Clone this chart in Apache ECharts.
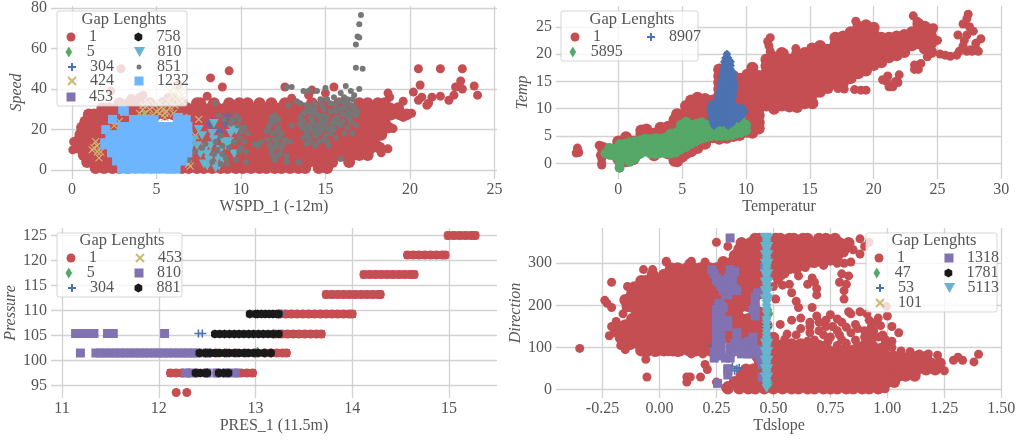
<!DOCTYPE html>
<html><head><meta charset="utf-8">
<script src="https://cdn.jsdelivr.net/npm/echarts@6/dist/echarts.min.js"></script>
<style>html,body{margin:0;padding:0;background:#fff}#c{width:1021px;height:441px}</style>
</head><body><div id="c"></div>
<script>
// ---------- tick labels / axis names
const ticks1X=[0,5,10,15,20,25], ticks1Y=[0,20,40,60,80];
const ticks2X=[0,5,10,15,20,25,30], ticks2Y=[0,5,10,15,20,25];
const ticks3X=[11,12,13,14,15], ticks3Y=[95,100,105,110,115,120,125];
const ticks4X=[-0.25,0,0.25,0.5,0.75,1,1.25,1.5], ticks4Y=[0,100,200,300];

// ---------- panel 1: WSPD_1 vs Speed. rows are [y, x, x, ...]
const wspdRed1Rows=[
[1,1.4,1.9,2.4,2.8,3.3,6.5,6.9,7.4,7.8,8.3,8.8,9.2,9.7,10.1,10.6,11.1,11.5,12,12.4,12.9,13.4,13.8,14.6,15.1],
[4,.9,1.3,1.8,2.2,2.7,6.7,7.1,7.6,8,8.5,9,9.4,9.9,10.3,10.8,11.3,11.7,12.2,12.6,13.1,13.6,14,14.5,14.9,15.4,16.4],
[7.5,.7,1.1,1.6,2,2.5,6.9,7.3,7.8,8.2,8.7,9.2,9.6,10.1,10.5,11,11.5,11.9,12.4,12.8,13.3,13.8,14.2,14.7,15.1,15.6,16.1,16.6,17,17.5],
[11,.4,.8,1.1,1.5,2,7,7.5,7.9,8.4,8.9,9.3,9.8,10.2,10.7,11.2,11.6,12.1,12.5,13,13.5,13.9,14.4,14.8,15.3,15.8,16.2,16.7,17.1,17.7,18.2],
[14,.3,.6,.9,1.3,1.8,6.8,7.2,7.7,8.2,8.6,9.1,9.5,10,10.4,10.9,11.4,11.8,12.3,12.7,13.2,13.7,14.1,14.6,15,15.5,16,16.4,16.9,17.4,17.9],
[17.5,.5,.7,1.1,1.6,2,6.9,7.4,7.9,8.3,8.8,9.3,9.7,10.2,10.6,11.1,11.6,12,12.5,12.9,13.4,13.9,14.3,14.8,15.2,15.7,16.2,16.6,17.1,17.6,18.1,18.3],
[21,.6,.9,1.3,1.8,2.2,2.7,6.8,7.2,7.7,8.2,8.6,9.1,9.5,10,10.4,10.9,11.4,11.8,12.3,12.7,13.2,13.7,14.1,14.6,15,15.5,16,16.4,16.9,17.3,17.8,18.3,18.7],
[24,.8,1.1,1.5,2,2.5,2.9,3.4,6.9,7.4,7.9,8.3,8.8,9.3,9.7,10.2,10.6,11.1,11.6,12,12.5,12.9,13.4,13.9,14.3,14.8,15.2,15.7,16.2,16.6,17.1,17.6,18,18.5],
[27.5,1,1.3,1.8,2.3,2.7,3.2,3.6,4.1,4.6,5,5.5,6,6.4,6.9,7.3,7.8,8.3,8.7,9.2,9.6,10.1,10.6,11,11.5,11.9,12.4,12.9,13.3,13.8,14.2,14.7,15.2,15.6,16.1,16.5,17,17.5,17.9,18.4,18.9,19.4,19.8],
[30.5,1.8,2.2,2.7,3.1,3.6,4,4.5,5,5.4,5.9,6.3,6.8,7.3,7.7,8.2,8.6,9.1,9.6,10,10.5,10.9,11.4,11.9,12.3,12.8,13.2,13.7,14.2,14.6,15.1,15.5,16,16.5,16.9,17.4,17.8,18.3,18.8,19.3],
[33,2.8,3.4,4,4.6,5.4,6.1,6.5,7.4,7.6,8.4,9.3,9.9,10.4,11.1,11.8,12.6,13,14.2,14.9,15.8,17,17.5,18.1,18.5]
];
const wspdRedExtra=[[8.2,45.5],[8.9,41],[9.3,49],[8,36.5],[12.6,41],[15.5,41],[15,38],[14.2,39.5],[14,37],[13,35.5],[2.3,39],[2.9,50],[6.3,42],[20.5,50],[21.8,50],[23.1,50],[20.6,42],[20.2,38.5],[20.5,34.5],[20.7,36],[21,32],[21.1,33],[21.3,36],[21.8,36.5],[22.3,34.5],[22.6,37],[22.7,41],[23,44],[23.1,40],[23.8,41.5],[24,37],[19,20.5],[18.7,10.5],[18.3,8.5],[16.4,4],[17.5,8],[18.7,38],[18.8,36],[3.5,35.5],[4,36],[4.2,37],[5.7,36],[6,36],[.1,14],[.05,10],[20.1,28],[19.6,34],[19.6,26],[19.2,30]];
const wspdGreen=[[4.3,27],[4.7,1]];
const wspdPlus=[[8.1,23],[8.3,22],[8.5,20],[8.8,19],[9.1,25],[9.2,27],[8.7,16],[8.4,14],[8.3,24],[9,23]];
const wspdCross=[[1.2,10],[1.4,14],[1.5,12],[1.6,6],[1.7,9],[1.3,11],[1.5,9],[2.5,22],[2.8,24],[4.2,30],[4.4,26],[4.6,30],[4.3,28],[4.1,25],[4.9,32],[5.2,28],[5.5,26],[5.8,31],[5.6,29],[6,38],[6.2,42],[6.4,36],[6.5,34],[6.1,35],[5.4,30],[6.7,22],[6.8,18],[7,2],[6.9,3],[7.5,25],[7.1,15],[7.3,17],[6.6,26],[6,28],[5.2,33],[4.5,33],[4,28],[4.2,32],[5,29],[5.7,34],[5.9,37],[6.3,39],[6.1,32],[5.5,28],[5.3,31],[6.5,37],[6.6,40],[6,41],[5.8,39],[4.8,27]];
const wspdPurple=[[5,10]];
const wspdBlack=[[4.5,6]];
const wspdCyan=[[7.5,20],[7.2,15],[7,11],[7.6,8],[8,2],[8,8],[8.2,12],[8.3,18],[8.4,23],[8.6,6],[8.7,2],[8.8,10],[9,14],[9.5,20],[9.6,8],[9.3,14],[9.7,19.5],[7.4,12],[7.8,3],[6.6,14],[8.4,15],[7.9,11],[8.5,1],[7.7,17],[8.1,5],[8.9,5],[9.4,18],[9.1,12]];
const wspdGray=[[17.1,76.5],[17,72],[16.9,66],[17,65.5],[16.8,62],[16.8,50.5],[17.2,50],[17,40],[16.2,41.5],[16.5,39],[15.9,38],[15,40.5],[14.5,39],[14,39],[13.7,39],[13,41],[12.7,41],[13.3,34],[13.5,33],[12.8,32],[15.9,5.5],[16,34],[16.3,33],[15.6,32],[15.9,30],[16.4,29],[16.7,31],[16.2,27],[15.7,26],[16,24],[16.5,24],[16.8,27],[15.5,36],[16.1,36],[16.6,35],[15.1,35],[14.7,35],[14.4,33],[14.1,31],[13.9,29],[14.4,28],[14.9,30],[15.3,29],[15.1,26],[14.7,25],[14.2,25],[14,22],[14.5,22],[15,22],[15.4,23],[14.8,20],[14.3,19],[13.9,18],[14.4,17],[15,17],[15.3,18],[13.6,21],[13.5,26],[13.7,16],[15.1,14],[14.6,14],[14.1,14],[15.5,20],[16.3,21],[16.6,18],[12,27],[11.8,26],[12,24],[11.7,22],[12.2,21],[11.5,19],[11.9,18],[12.4,18],[12.2,16],[11.6,15],[12.1,13],[12.5,13],[12,11],[11.8,9],[12.3,8],[12.7,7],[12.1,7],[13,22],[12.9,14],[13.4,4],[9.8,22],[10,19],[9.9,16],[10.2,14],[10,11],[9.7,5],[10.3,4],[9.5,25],[9,25],[8.7,27],[8.5,33],[7.7,11],[7.3,9],[6.6,6],[6.9,5],[6.5,16],[8.5,14],[8.8,17],[9.3,11],[8.9,8],[10.8,13],[11,12],[11.2,14],[10.3,9],
[16.1,31],[16.5,32],[15.8,34],[16.3,35],[16.7,37],[15.3,33],[15.6,29],[16,28],[16.4,26],[15.9,22],[15.4,21],[15,24],[14.6,27],[14.2,29],[14.8,32],[14.4,30],[13.9,32],[14.1,26],[13.7,24],[14.3,23],[14.7,23],[15.2,20],[14.6,18],[14.1,20],[13.8,20],[14.9,15],[15.6,16],[15.2,12],[14.4,12],[13.9,13],[16.1,18],[16.8,22],[16.9,29],[16.6,28],[15.5,25],[14.9,27],[14.5,20],[15.7,23],[14,16],[13.7,28],[13.5,23],[11.8,24],[12.2,25],[11.6,20],[12.1,19],[12,15],[11.7,12],[12.4,11],[12,5],[12.6,15],[12.7,4],[11.9,7],[9.4,23],[9.7,27],[9.9,25],[10.2,21],[10.4,18],[9.6,14],[9.9,9],[8.6,10],[8.4,8],[8.9,12],[9.1,6],[8.3,4],[7.9,13],[9.2,3],[8.8,3]];
const wspdLight1Rows=[
[1,3,3.5,4,4.5,4.9,5.4,5.9,6.1],
[5,2.7,3.1,3.6,4,4.5,4.9,5.4,5.9,6.2,6.5],
[9,2.4,2.8,3.3,3.7,4.2,4.6,5,5.4,5.8,6.2,6.6,6.8],
[13,2,2.4,2.9,3.4,3.9,4.4,4.8,5.3,5.8,6.2,6.6,6.8],
[17,2.3,2.8,3.2,3.7,4.2,4.7,5.3,5.7,6.2,6.6,6.8],
[21,3,3.5,3.9,4.4,4.8,5.2,5.6,6,6.3,6.8],
[24.5,3.7,4,4.4,4.8,6.3,6.7]
];
const wspdLightExtra=[[3,30],[2.4,25],[2,20],[6.3,26],[6.7,25],[3.1,29]];

// ---------- panel 2: Temperatur vs Temp. columns are [x, y, y, ...]
const tempRed1Cols=[
[0,4,3.4,.8],[.6,4.8,4,.4],[1.2,4,.8],[1.8,6,5.2],[2.2,6.2,5.4],[2.8,5.4,1.5],[3.3,6.5,5.8],[3.9,6.7,6,1.8],[4.4,8,7.2,1.5,.5],[4.6,9,8.2,.4],[5,8.5,7.6,2,1.2],[5.3,10.5,9.5,8.5,2.5,1.8],
[5.7,11.5,10.5,9.5,8.5,3,2.2],[6.2,12,11,10,9,8,3.5,2.8],[6.8,11.8,10.6,9.6,8.6,4.5,3.6],[7.4,11.5,10.4,9,4.8],[7.9,17.2,16,14.8,13.6,12.4,11.2,4.5],[8.5,15,13,11,4.7],[9,16,14.8,13.6,12.4,11.2,5],[9.5,15.5,14.3,13,11.8,10.6,5.2],
[10.1,16.2,15,13.8,12.6,11.4,10.2,9,7.8,6.6,5.8],[10.5,17.5,16.2,15,13.8,12.6,11.4,10.2,9,7.8,6.6,5.6],[11,16,14.8,13.6,12.4,11.2,10,8.8,7.5,6.4],
[11.6,19,17.8,16.6,15.4,14.2,13,11.8,10.6],[12.2,19.4,18.2,17,15.8,14.6,13.4,12.2,11,10],[12.8,20.2,19,17.8,16.6,15.4,14.2,13,11.8,10.6],[13.4,19,17.8,16.6,15.4,14.2,13,11.8,10.4],[14,20,18.8,17.6,16.4,15.2,14,12.8,11.6,10.3],
[14.6,20.2,19,17.8,16.6,15.4,14.2,13,11.8,11],[15.2,21,19.8,18.6,17.4,16.2,15,13.8,12.6,11],[15.8,21.5,20.3,19.1,17.9,16.7,15.5,14.3,13.1],[16.4,20.8,19.6,18.4,17.2,16,14.8,13.8],[17,23,21.8,20.6,19.4,18.2,17,15.8,14.6],[17.6,23.2,22,20.8,19.6,18.4,17.2,16,14.8],
[18.2,24,22.8,21.6,20.4,19.2,18,16.8,15.6],[18.8,25,23.8,22.6,21.4,20.2,19,17.8,16.5],[19.4,25.3,24,22.8,21.6,20.4,19.2,18,17],[20,24.8,23.6,22.4,21.2,20,18.8,18],[20.6,23,21.8,20.6,19.4,18.5],[21.2,23,21.8,20.6,19.4],[21.8,23.2,22,20.8,19.8],[22.4,23.5,22.3,21.1,20.4],
[23,24,22.8,21.6],[23.5,25.5,24.4,23.2,22],[24,25,23.6,22.4,21],[24.5,24.5,23.2,22,20.4]
];
const tempRedExtra=[[-3.2,2.5],[-3.1,2],[-3.3,1.9],[-3.2,2.8],[-1.5,3.3],[-1.3,3.2],[-1.1,3],[-1.4,1.5],[-1.3,2.5],[-1.3,.9],[-1.3,0],[-1.3,-.3],[-.5,1.5],[.7,4.8],[.6,4.9],[8,17.4],[7.9,16.3],[11.9,23],[11.7,22.3],[11.8,21.5],[11.9,20.5],[13,20.2],[13.9,21],[15.1,21.2],[17.2,13.7],[17.7,13.6],[18.5,13.5],[19,13.4],[19.4,13.4],[18.6,26],[17.5,15],[20.7,15.3],[21,15],[21.2,14],[21.1,16],[21.5,14],[21.9,14.8],[22,16.2],[21.7,15],[23.2,17.2],[23.5,17.2],[23.2,18],[23.7,18.3],[23.1,27],[23.4,26],[24.2,19.5],[24.7,24.8],[25,22.5],[25.2,20],[25.6,19.8],[26,19.6],[26.5,19.8],[26.7,20.5],[27,21.5],[26.6,23.5],[27.4,27.3],[27.3,26.5],[27,25.5],[27.5,25],[27.8,24.2],[27.3,23.5],[27.1,22.5],[27.3,20.5],[27.7,20.5],[28,21],[28.2,20.5],[28,22],[28.4,22.8],[27.6,20.8]];
const tempGreen1Cols=[
[-1,1.8],[-.7,1.6,2.8],[-.3,1.4,2.6],[.1,-.8,0,1.1,2.3,3.5],[.5,1.2,2.4,3.6],[.9,.3,1.5,2.7,3.8],[1.3,.9,2.2,3.3,4],[1.7,1.7,2.9,4.2],[2.1,2.2,3.2,4.5],[2.5,1.8,3,4.4],[2.9,1.7,2.9,4.6],[3.3,1.9,3.2,4.5],[3.7,1.8,3,4.7],[4.1,1.8,3,4.3,5.4],[4.5,2,3.2,4.4,5.6],[4.9,2.6,3.8,5,6.2,7],[5.3,3,4.2,5.4,6.6,7.6],[5.7,3.6,4.8,6,7],[6.1,4.1,5.3,6.5,7.2],[6.5,4.5,5.7,6.9,7.5],[6.9,4.8,5.9,7],[7.3,5,6,7],[7.7,5,6,7.1],[8.1,5,6,7],[8.5,5,5.9,6.8],[8.9,5.2,6.2],[9.3,5.5,6.5,7.3],[9.6,5.6,6.7,7.8,8.4],[10,6,7]
];
const tempGreenExtra=[[7.4,9.5],[7.6,8.5],[7.9,12]];
const tempBlue1Rows=[
[20,8.5],[19.3,8.4,8.6],[18.6,8.3,8.6,8.8],[17.9,8.3,8.6,8.8],[17.2,8.2,8.5,8.8],[16.5,8.2,8.5,8.8,9],[15.8,8.1,8.4,8.7,9],[15.1,8.1,8.4,8.7,9],[14.4,8,8.3,8.6,8.9,9.1],[13.7,8,8.3,8.6,8.9,9.1],[13,7.9,8.2,8.5,8.8,9],[12.3,7.8,8.1,8.4,8.7,9],
[11.6,7.8,8.1,8.4,8.7,8.9],[10.9,7.3,7.6,7.9,8.2,8.5,8.8,9],[10.2,7.2,7.5,7.8,8.1,8.4,8.7,9,9.4,9.7],[9.5,7.2,7.5,7.8,8.1,8.4,8.7,9,9.3,9.6,9.9],[8.8,7.3,7.6,7.9,8.2,8.5,8.8,9.1,9.4,9.7],[8.1,7.3,7.6,7.9,8.2,8.5,8.8,9.1,9.4],[7.4,7.4,7.8,8.1,8.4,8.6,8.9],[6.9,7.5,8.6]
];

// ---------- panel 3: PRES_1 vs Pressure
const presRedX125=[14.99,15.05,15.11,15.17,15.23,15.27];
const presRedX121=[14.57,14.63,14.69,14.75,14.81,14.87,14.93,14.96];
const presRedX117=[14.12,14.18,14.24,14.3,14.36,14.42,14.48,14.54,14.6,14.64];
const presRedX113=[13.73,13.79,13.85,13.91,13.97,14.03,14.09,14.15,14.21,14.27,14.29];
const presRedX109=[13.25,13.31,13.37,13.43,13.49,13.55,13.61,13.67,13.73,13.79,13.85,13.91,13.97,14];
const presRedX105=[13.2,13.27,13.33,13.39,13.45,13.51,13.57,13.63,13.68];
const presRedX101=[12.5,12.6,12.7,12.8,12.9,13,13.1,13.16,13.22,13.28,13.32];
const presRedX97=[12.12,12.18,12.24,12.3,12.4,12.5,12.6,12.7,12.8,12.85,12.91,12.97];
const presRedX93=[12.18,12.29];
const presGreen=[[13,101.5],[13.02,101.7]];
const presPlus=[[12.41,105.4],[12.45,105.4],[13.27,109.4],[12.5,97.6]];
const presCross=[[12.9,101.5]];
const presPurpleX105=[11.14,11.19,11.25,11.31,11.33,11.47,11.53,12.06];
const presPurpleX101=[11.19,11.35,11.4,11.45,11.5,11.55,11.6,11.65,11.7,11.75,11.8,11.85,11.9,11.95,12,12.05,12.1,12.15,12.2,12.25,12.3,12.35,12.4,12.5];
const presPurpleX97=[12.28,12.35,12.5,12.6,12.7,12.79];
const presBlackX109=[12.94,13,13.02,13.06,13.1,13.14,13.18,13.22,13.24];
const presBlackX105=[12.58,12.63,12.68,12.73,12.78,12.83,12.88,12.93,12.98,13.03,13.08,13.13,13.18,13.24];
const presBlackX101=[12.42,12.48,12.53,12.58,12.63,12.68,12.73,12.78,12.83,12.88,12.93,12.98,13.03,13.09,13.16];
const presBlackX97=[12.38,12.43,12.48,12.5,12.62,12.67,12.72];

// ---------- panel 4: Tdslope vs Direction. rows are [y, x, x, ...]
const slopeRed1Rows=[
[3,.3,.35,.39,.42,.46,.5,.54,.58,.61,.65,.68,.72,.75,.78,.82,.85,.89,.92,.96],
[18,.33,.37,.4,.44,.51,.55,.58,.62,.65,.69,.72,.76,.79,.83,.86,.89,.93,.96,1,1.03],
[33,.36,.39,.43,.47,.5,.54,.57,.61,.64,.67,.71,.74,.78,.81,.85,.88,.91,.95,.98,1.02,1.05,1.08,1.12],
[48,.38,.41,.44,.51,.55,.58,.62,.65,.69,.72,.76,.79,.83,.86,.89,.93,.96,1,1.03,1.06,1.1,1.13,1.17,1.21],
[63,.44,.5,.54,.57,.61,.64,.67,.71,.74,.78,.81,.85,.88,.91,.95,.98,1.02,1.05,1.08,1.12,1.15,1.19,1.23],
[78,.43,.51,.55,.58,.62,.65,.69,.72,.76,.79,.83,.86,.89,.93,.96,1,1.03,1.06,1.1,1.13,1.17],
[93,-.08,-.05,-.01,.02,.06,.09,.13,.16,.19,.23,.42,.5,.54,.57,.61,.64,.67,.71,.74,.78,.81,.85,.88,.91,.95,.98],
[108,-.13,-.09,-.06,-.03,.01,.04,.08,.11,.14,.18,.21,.25,.38,.42,.45,.51,.55,.58,.62,.66],
[123,-.17,-.14,-.1,-.07,-.03,0,.04,.07,.1,.14,.17,.21,.24,.28,.31,.34,.38,.41,.45,.5],
[138,-.19,-.16,-.12,-.09,-.06,-.02,.01,.05,.08,.12,.15,.18,.22,.25,.29,.32,.36,.39,.42,.46],
[153,-.15,-.11,-.08,-.05,-.01,.02,.06,.09,.13,.16,.19,.23,.26,.3,.33,.37,.4,.43,.47],
[168,-.12,-.09,-.05,-.02,.01,.05,.08,.12,.15,.19,.22,.25,.29,.32,.36,.39,.46],
[183,-.1,-.07,-.03,0,.04,.07,.1,.14,.17,.21,.24,.28,.31,.34,.44],
[198,-.14,-.12,-.09,-.05,-.02,.01,.05,.08,.12,.15,.19,.22,.25,.29,.32,.36,.39],
[213,-.15,-.14,-.1,-.07,-.03,0,.04,.07,.1,.14,.17,.21,.24,.28,.31,.34,.38,.41],
[228,-.12,-.11,-.08,-.05,-.01,.02,.06,.09,.13,.16,.19,.23,.26,.3,.33,.37,.4,.44],
[243,-.11,-.09,-.05,-.02,.01,.05,.08,.12,.15,.19,.22,.25,.29,.32,.36,.39,.43,.46],
[258,-.08,-.06,-.03,0,.04,.07,.1,.14,.17,.21,.24,.28,.31,.34,.38,.41,.45],
[273,-.03,.02,.05,.09,.12,.15,.19,.22,.26,.29,.33,.36,.4,.43,.46,.51,.53],
[288,.05,.08,.12,.15,.18,.22,.25,.29,.32,.36,.39,.42,.46,.5,.53,.57,.6],
[303,.28,.32,.36,.4,.43,.47,.51,.54,.58,.61,.65,.68,.72],
[318,.33,.37,.4,.44,.5,.53,.57,.6,.64,.67,.71,.74,.78],
[333,.35,.38,.42,.45,.5,.54,.57,.61,.64,.68,.71,.74,.78,.81],
[348,.36,.4,.43,.47,.51,.55,.58,.62,.65,.69,.72,.76,.79,.83],
[358,.42,.44,.51,.53,.57,.59,.63,.65,.7,.73,.77]
];
const slopeRedExtra=[[-.35,98],[-.24,212],[-.23,205],[-.21,195],[-.21,255],[-.14,245],[-.22,128],[-.21,150],[-.19,162],[-.18,153],[-.16,180],[-.15,95],[-.17,105],[-.11,155],[-.06,72],[-.055,30],[.03,303],[-.07,285],[.2,60],[.21,48],[.18,30],[.12,18],[.12,30],[.135,30],[.29,5],[.3,10],[.25,18],[.81,300],[.84,303],[.61,270],[.67,265],[.68,255],[.65,250],[.69,240],[.69,225],[.57,250],[.58,230],[.6,210],[.61,195],[.51,215],[.54,248],[.67,195],[.8,275],[.83,270],[.79,255],[.82,250],[.81,235],[.81,215],[.83,185],[.88,185],[.91,180],[.84,180],[.78,168],[.73,165],[.7,160],[.58,165],[.53,155],[.62,170],[.76,150],[.86,155],[.93,150],[.96,170],[.97,152],[1,175],[1.02,150],[1.05,135],[.98,130],[.94,140],[.66,135],[.56,132],[.65,115],[.79,130],[.84,135],[.9,125],[.99,2],[1.29,70],[1.31,77],[1.33,70],[1.38,66],[1.4,84],[1.25,45],[.27,115],[.88,358],[.92,350],[.9,340],[.995,198],[.25,350],[.3,340],[.28,305],[.2,303],[.13,300],[.14,305],[.03,305],[-.03,285],
[.7,108],[.74,115],[.78,105],[.82,110],[.86,118],[.9,110],[.94,105],[.99,110],[1.02,100],[1.06,92],[1.1,90],[1.14,85],[1.18,85],[1.22,82],[.78,348],[.83,345],[.85,332],[.81,325],[.88,322],[.75,305],[.78,300],[.72,295],[.67,300],[.64,290],[.52,260],[.55,275],[.5,245],[.04,90],[.08,88],[.14,85],[.19,85],[.22,90],[-.02,88],
[.6,130],[.62,145],[.66,150],[.7,140],[.72,130],[.75,125],[.78,140],[.82,148],[.87,145],[.9,140],[.93,130],[.96,125],[.99,120],[1.02,115],[.55,120],[.6,105],[.68,118],[.72,105],[.8,118],[.87,105],[.93,115],[.97,100],[.73,150],[.69,175],[.75,178],[.8,160],[.95,160],[.92,165],[.66,160]];
const slopeGreen=[[.48,190],[.485,15],[.48,300],[.485,180]];
const slopePlus=[[.23,105],[.32,55],[.34,50],[.33,45],[.35,52]];
const slopeCross=[[.47,200]];
const slopePurple=[[.23,285],[.24,275],[.25,265],[.26,255],[.27,245],[.28,235],[.29,225],[.3,225],[.31,235],[.32,250],[.32,270],[.33,280],[.31,285],[.28,260],[.29,245],[.3,265],[.33,240],[.34,235],[.3,255],[.26,205],[.27,200],[.28,195],[.25,190],[.25,175],[.25,160],[.25,145],[.25,130],[.25,115],[.25,100],[.24,90],[.24,75],[.27,185],[.27,170],[.27,155],[.27,140],[.27,125],[.27,110],[.27,95],[.27,80],[.3,165],[.3,150],[.31,85],[.31,100],[.33,110],[.34,125],[.34,135],[.36,110],[.36,95],[.36,85],[.38,100],[.39,115],[.41,125],[.4,85],[.41,105],[.3,45],[.3,35],[.3,50],[.255,15],[.31,360],[.42,185],[.42,195],[.42,205],[.42,220],[.43,230],[.41,190],[.42,175],[.44,95],[.44,75],[.45,30],[.45,60],[.46,290],[.25,260],[.29,75],[.31,75],[.33,90],[.35,105],[.39,85]];
const slopeBlack=[[.47,150]];
const slopeCyanY=[3,9,15,22,29,36,43,50,57,64,71,78,85,92,99,106,113,118,127,135,143,151,159,165,178,186,194,202,210,218,226,234,242,250,258,266,274,282,290,298,306,314,322,330,338,346,354,362];
const slopeCyanSideY=[30,50,70,90,110,215,235,255,275,300,320,340,360];

// ---------- layout
const grids=[
 {left:51,top:6,width:446,height:173,xr:[-1.24,25.15],yr:[-4.4,81]},
 {left:556,top:6,width:446,height:173,xr:[-4.88,30.05],yr:[-2.86,28.8]},
 {left:51,top:228,width:446,height:170,xr:[10.886,15.496],yr:[92.5,126.5]},
 {left:556,top:228,width:446,height:170,xr:[-.454,1.503],yr:[-19.7,383.7]}
];
const SERIF='"Liberation Serif","DejaVu Serif",serif';
const FS=16;
const RED='#C44E52',GREEN='#55A868',BLUE='#4C72B0',TAN='#CCB974',PURPLE='#8172B2',BLACK='#1a1a1a',CYAN='#64B5CD',GRAY='#777777',LIGHT='#6DB6FF';
const SQ='path://M0,0L2,0L2,2L0,2Z';
const SYM={
 o:{s:'circle',size:9,ls:9},
 d:{s:'path://M3,0L6,5L3,10L0,5Z',size:11,ls:11},
 p:{s:'path://M1,0L1,2M0,1L2,1',size:8,ls:8,stroke:1.6},
 x:{s:'path://M0,0L2,2M2,0L0,2',size:7,ls:8,stroke:1.1},
 s:{s:SQ,size:9,ls:9},
 h:{s:'path://M2,0L3.73,1L3.73,3L2,4L.27,3L.27,1Z',size:9,ls:9},
 v:{s:'path://M0,0L2,0L1,1.8Z',size:10,ls:10},
 g:{s:'circle',size:6,ls:5}
};
const fromRows=r=>r.flatMap(([y,...xs])=>xs.map(x=>[x,y]));
const fromCols=c=>c.flatMap(([x,...ys])=>ys.map(y=>[x,y]));
const strip=(xs,y)=>xs.map(x=>[x,y]);
const presRedStrips=[...strip(presRedX125,125),...strip(presRedX121,121.1),...strip(presRedX117,117.2),...strip(presRedX113,113.2),...strip(presRedX109,109.3),...strip(presRedX105,105.3),...strip(presRedX101,101.5),...strip(presRedX97,97.5)];
const presBlackAll=[...strip(presBlackX109,109.3),...strip(presBlackX105,105.3),...strip(presBlackX101,101.5),...strip(presBlackX97,97.5)];

// each item: label, marker, colour, points, legend column, legend row, optional underlay [points, marker, size]
const panels=[
 {key:'a',box:[57,11,130,95],titleX:124,titleY:20,cols:[71,139],rows:[37,52,67,81,97],
  items:[
  ['1','o',RED,wspdRedExtra,0,0,[fromRows(wspdRed1Rows),'circle',12]],
  ['5','d',GREEN,wspdGreen,0,1],['304','p',BLUE,wspdPlus,0,2],['424','x',TAN,wspdCross,0,3],['453','s',PURPLE,wspdPurple,0,4],
  ['758','h',BLACK,wspdBlack,1,0],['810','v',CYAN,wspdCyan,1,1],['851','g',GRAY,wspdGray,1,2],
  ['1232','s',LIGHT,wspdLightExtra,1,3,[fromRows(wspdLight1Rows),SQ,11]]]},
 {key:'b',box:[561,11,137,50],titleX:632,titleY:20,cols:[575,650],rows:[37,52],
  items:[
  ['1','o',RED,tempRedExtra,0,0,[fromCols(tempRed1Cols),'circle',12]],
  ['5895','d',GREEN,fromCols(tempGreen1Cols).concat(tempGreenExtra),0,1,[fromCols(tempGreen1Cols),'circle',10]],
  ['8907','p',BLUE,fromRows(tempBlue1Rows),1,0,[fromRows(tempBlue1Rows),'circle',6.5]]]},
 {key:'c',box:[57,233,125,64],titleX:122,titleY:241,cols:[71,139],rows:[258,273,288],
  items:[
  ['1','o',RED,[...presRedStrips,...strip(presRedX93,93.6)],0,0,[presRedStrips,'rect',[7,8]]],
  ['5','d',GREEN,presGreen,0,1],['304','p',BLUE,presPlus,0,2],['453','x',TAN,presCross,1,0],
  ['810','s',PURPLE,[...strip(presPurpleX105,105.4),...strip(presPurpleX101,101.5),...strip(presPurpleX97,97.5)],1,1],
  ['881','h',BLACK,presBlackAll,1,2,[presBlackAll,'rect',[6,7]]]]},
 {key:'d',box:[866,233,131,79],titleX:934,titleY:241,cols:[879,949],rows:[258,273,288,303],
  items:[
  ['1','o',RED,slopeRedExtra,0,0,[fromRows(slopeRed1Rows),'circle',12]],
  ['47','d',GREEN,slopeGreen,0,1],['53','p',BLUE,slopePlus,0,2],['101','x',TAN,slopeCross,0,3],
  ['1318','s',PURPLE,slopePurple,1,0],['1781','h',BLACK,slopeBlack,1,1],
  ['5113','v',CYAN,[...slopeCyanY.map(y=>[.47,y]),...slopeCyanSideY.map(y=>[.462,y]),...slopeCyanSideY.map(y=>[.478,y])],1,2]]}
];
const axisDefs=[
 {xn:'WSPD_1 (-12m)',yn:'Speed',tx:ticks1X,ty:ticks1Y,fx:String,gap:26},
 {xn:'Temperatur',yn:'Temp',tx:ticks2X,ty:ticks2Y,fx:String,gap:25},
 {xn:'PRES_1 (11.5m)',yn:'Pressure',tx:ticks3X,ty:ticks3Y,fx:String,gap:26},
 {xn:'Tdslope',yn:'Direction',tx:ticks4X,ty:ticks4Y,fx:v=>(+v).toFixed(2),gap:30}
];
const TC='#555555', GC='#d2d2d2';
const axisCommon={type:'value',axisLine:{show:false},splitLine:{show:true,lineStyle:{color:GC,width:1.3}},scale:true};
const series=[],legends=[],graphics=[];
panels.forEach((p,pi)=>{
 p.items.forEach(([name,sym,color,data,col,row,under])=>{
  const S=SYM[sym], id=p.key+':'+name;
  if(under){
   series.push({type:'scatter',name:id+':under',xAxisIndex:pi,yAxisIndex:pi,data:under[0],symbol:under[1],symbolSize:under[2],symbolKeepAspect:false,silent:true,animation:false,itemStyle:{color,opacity:1}});
  }
  series.push({type:'scatter',name:id,xAxisIndex:pi,yAxisIndex:pi,data,symbol:S.s,symbolSize:S.size,symbolKeepAspect:true,silent:true,animation:false,
    itemStyle:{color,opacity:1,borderColor:S.stroke?color:'transparent',borderWidth:S.stroke||0}});
  const W=26;
  // the legend box starts at the marker's left edge, so the marker centre is the column minus half its width
  legends.push({data:[id],left:p.cols[col]-S.ls/2,top:p.rows[row]-11,itemWidth:W,itemHeight:S.ls,padding:0,selectedMode:false,z:6,
    formatter:n=>n.split(':')[1],textStyle:{fontFamily:SERIF,fontSize:FS,color:TC,lineHeight:18,padding:[0,0,4,0]}});
 });
 graphics.push({type:'rect',z:3,silent:true,shape:{x:p.box[0],y:p.box[1],width:p.box[2],height:p.box[3],r:2},style:{fill:'rgba(255,255,255,0.8)',stroke:'rgba(204,204,204,0.8)',lineWidth:1}});
 graphics.push({type:'text',z:7,silent:true,x:p.titleX,y:p.titleY,style:{text:'Gap Lenghts',fill:TC,font:'16.5px '+SERIF,textAlign:'center',textVerticalAlign:'middle'}});
});
const option={
 animation:false,backgroundColor:'#fff',
 grid:grids.map(g=>({left:g.left,top:g.top,width:g.width,height:g.height,containLabel:false})),
 xAxis:grids.map((g,i)=>({...axisCommon,gridIndex:i,min:g.xr[0],max:g.xr[1],name:axisDefs[i].xn,nameLocation:'middle',nameGap:20,
   nameTextStyle:{fontFamily:SERIF,fontSize:FS,color:TC},
   axisTick:{show:false,customValues:axisDefs[i].tx},
   axisLabel:{customValues:axisDefs[i].tx,formatter:axisDefs[i].fx,fontFamily:SERIF,fontSize:FS,color:TC,margin:3,hideOverlap:false}})),
 yAxis:grids.map((g,i)=>({...axisCommon,gridIndex:i,min:g.yr[0],max:g.yr[1],name:axisDefs[i].yn,nameLocation:'middle',nameGap:axisDefs[i].gap,
   nameTextStyle:{fontFamily:SERIF,fontSize:FS,fontStyle:'italic',color:TC},
   axisTick:{show:false,customValues:axisDefs[i].ty},
   axisLabel:{customValues:axisDefs[i].ty,fontFamily:SERIF,fontSize:FS,color:TC,margin:4,hideOverlap:false}})),
 series,legend:legends,graphic:{elements:graphics}
};
echarts.init(document.getElementById('c'),null,{renderer:'canvas'}).setOption(option);
</script></body></html>
